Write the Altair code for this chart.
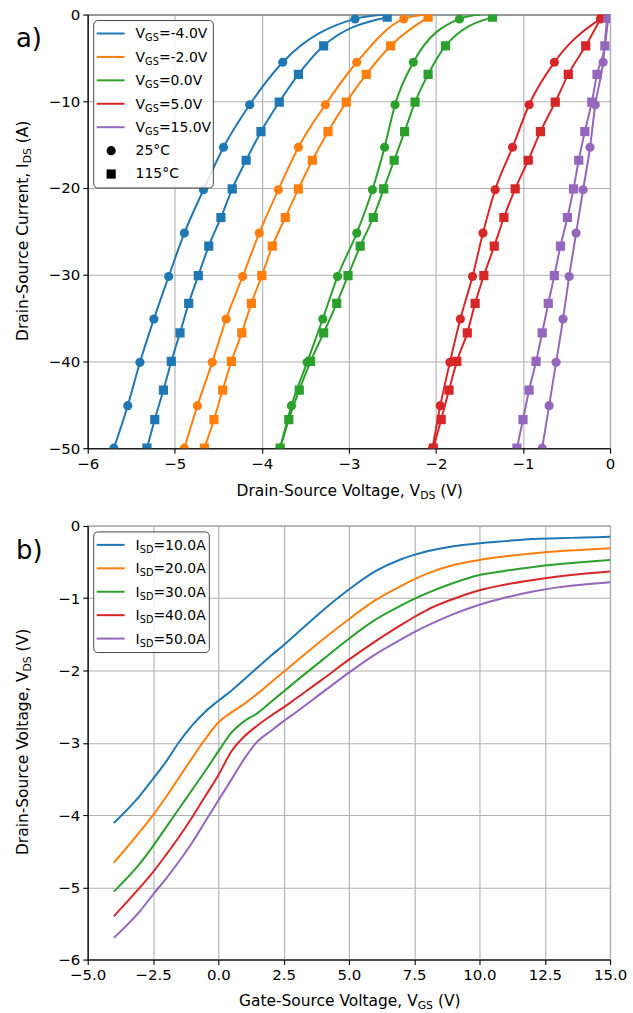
import altair as alt
import pandas as pd

FONT = "DejaVu Sans"

# ---------------- data: panel a) ----------------
VGS_VALUES = [-4.0, -2.0, 0.0, 5.0, 15.0]
VGS_LABELS = ["-4.0", "-2.0", "0.0", "5.0", "15.0"]
TEMPS = ["25°C", "115°C"]
PALETTE = ["#1f77b4", "#ff7f0e", "#2ca02c", "#d62728", "#9467bd"]

I_25C = [-0.5, -5.5, -10.4, -15.3, -20.2, -25.2, -30.2, -35.1, -40.1, -45.1, -50.0]
I_115C = [-0.3, -3.6, -6.9, -10.1, -13.5, -16.8, -20.1, -23.4, -26.7, -30.1,
          -33.3, -36.7, -40.0, -43.3, -46.7, -50.0]

VDS_25C_M4 = [-2.93, -3.76, -4.14, -4.44, -4.67, -4.89, -5.07, -5.24, -5.40, -5.54, -5.70]
VDS_25C_M2 = [-2.37, -2.91, -3.27, -3.58, -3.81, -4.03, -4.22, -4.41, -4.57, -4.74, -4.89]
VDS_25C_0 = [-1.73, -2.26, -2.47, -2.59, -2.73, -2.91, -3.13, -3.30, -3.48, -3.66, -3.79]
VDS_25C_5 = [-0.11, -0.64, -0.93, -1.12, -1.32, -1.46, -1.58, -1.72, -1.84, -1.95, -2.04]
VDS_25C_15 = [-0.03, -0.08, -0.17, -0.23, -0.31, -0.39, -0.47, -0.54, -0.62, -0.70, -0.78]
# where each 25°C curve meets I = 0 (line only, no marker)
VDS_25C_AT_ZERO = [-2.60, -2.10, -1.49, -0.03, 0.0]

VDS_115C_M4 = [-2.56, -3.29, -3.58, -3.80, -4.01, -4.18, -4.34, -4.47, -4.61, -4.73,
               -4.84, -4.94, -5.04, -5.13, -5.23, -5.32]
VDS_115C_M2 = [-2.09, -2.52, -2.80, -3.03, -3.24, -3.42, -3.58, -3.73, -3.88, -4.00,
               -4.12, -4.23, -4.35, -4.45, -4.55, -4.66]
VDS_115C_0 = [-1.35, -1.89, -2.09, -2.24, -2.36, -2.48, -2.60, -2.72, -2.87, -3.01,
              -3.14, -3.29, -3.44, -3.57, -3.69, -3.79]
VDS_115C_5 = [-0.10, -0.28, -0.48, -0.63, -0.80, -0.94, -1.09, -1.22, -1.33, -1.45,
              -1.55, -1.64, -1.76, -1.85, -1.94, -2.03]
VDS_115C_15 = [-0.02, -0.06, -0.15, -0.21, -0.29, -0.36, -0.42, -0.49, -0.57, -0.64,
               -0.71, -0.78, -0.85, -0.93, -1.00, -1.07]

# ---------------- data: panel b) ----------------
ISD_LABELS = ["10.0", "20.0", "30.0", "40.0", "50.0"]
VGS_GRID = [-4, -3, -2.5, -2, -1.5, -1, -0.5, 0, 0.5, 1, 1.5, 2, 2.5, 3, 4, 5, 6, 7,
            7.5, 8, 9, 10, 11, 12, 13, 14, 15]
VDS_10A = [-4.11, -3.73, -3.50, -3.26, -2.99, -2.76, -2.57, -2.42, -2.28, -2.12, -1.96,
           -1.80, -1.65, -1.49, -1.17, -0.88, -0.63, -0.46, -0.40, -0.35, -0.28, -0.24,
           -0.21, -0.18, -0.17, -0.16, -0.15]
VDS_20A = [-4.66, -4.23, -4.00, -3.75, -3.48, -3.21, -2.95, -2.72, -2.58, -2.46, -2.32,
           -2.17, -2.02, -1.87, -1.57, -1.29, -1.03, -0.83, -0.74, -0.66, -0.54, -0.47,
           -0.42, -0.38, -0.35, -0.33, -0.31]
VDS_30A = [-5.06, -4.67, -4.43, -4.17, -3.91, -3.65, -3.39, -3.12, -2.86, -2.70, -2.59,
           -2.44, -2.29, -2.14, -1.85, -1.56, -1.30, -1.10, -1.01, -0.93, -0.79, -0.68,
           -0.62, -0.57, -0.53, -0.50, -0.47]
VDS_40A = [-5.40, -5.00, -4.79, -4.55, -4.30, -4.03, -3.74, -3.45, -3.12, -2.91, -2.76,
           -2.63, -2.51, -2.38, -2.12, -1.85, -1.60, -1.37, -1.26, -1.16, -1.01, -0.89,
           -0.81, -0.75, -0.70, -0.66, -0.63]
VDS_50A = [-5.70, -5.33, -5.10, -4.88, -4.64, -4.38, -4.09, -3.80, -3.51, -3.22, -2.98,
           -2.84, -2.70, -2.57, -2.30, -2.03, -1.78, -1.57, -1.47, -1.38, -1.22, -1.09,
           -0.99, -0.91, -0.85, -0.81, -0.78]

# ---------------- build tables ----------------
v25 = [VDS_25C_M4, VDS_25C_M2, VDS_25C_0, VDS_25C_5, VDS_25C_15]
v115 = [VDS_115C_M4, VDS_115C_M2, VDS_115C_0, VDS_115C_5, VDS_115C_15]
pts_rows, line_rows = [], []
for lab, a25, a115, z in zip(VGS_LABELS, v25, v115, VDS_25C_AT_ZERO):
    for v, i in zip(a25, I_25C):
        pts_rows.append({"vds": v, "ids": i, "vgs": lab, "temp": TEMPS[0]})
    for v, i in zip(a115, I_115C):
        pts_rows.append({"vds": v, "ids": i, "vgs": lab, "temp": TEMPS[1]})
    line_rows.append({"vds": z, "ids": 0.0, "vgs": lab, "temp": TEMPS[0]})
pts_df = pd.DataFrame(pts_rows)
pts_df["series"] = pts_df["vgs"] + "_" + pts_df["temp"]
line_df = pd.concat([pts_df, pd.DataFrame(line_rows).assign(
    series=lambda d: d["vgs"] + "_" + d["temp"])], ignore_index=True)

b_rows = []
for lab, arr in zip(ISD_LABELS, [VDS_10A, VDS_20A, VDS_30A, VDS_40A, VDS_50A]):
    for g, v in zip(VGS_GRID, arr):
        b_rows.append({"vgs": g, "vds": v, "isd": lab})
b_df = pd.DataFrame(b_rows)

# ---------------- layout constants ----------------
W, H = 524, 435
FS_TICK = 15
FS_TITLE = 15.5
FS_LEG = 14
SUB = 0.7
ROW0, STEP = 19, 23.5

EM = {"D": .770, "r": .411, "a": .613, "i": .278, "n": .634, "-": .361, "S": .635,
      "o": .612, "u": .634, "c": .550, "e": .615, " ": .318, "V": .684, "l": .278,
      "t": .392, "g": .635, ",": .318, "(": .390, ")": .390, "C": .698, "I": .295,
      "A": .684, "G": .775}


def tw(s, size):
    return sum(EM.get(ch, 0.62) for ch in s) * size


def text1(text, x, y, size, align="left", baseline="alphabetic", angle=0, dy=0):
    return alt.Chart(alt.Data(values=[{"t": text}])).mark_text(
        align=align, baseline=baseline, fontSize=size, font=FONT, angle=angle,
        dy=dy, color="black").encode(x=alt.value(x), y=alt.value(y), text="t:N")


def x_title(p1, p2, p3, cx, y):
    w1, w2 = tw(p1, FS_TITLE), tw(p2, FS_TITLE * SUB)
    gap = tw(" ", FS_TITLE)
    w3 = tw(p3, FS_TITLE)
    a = cx - (w1 + w2 + gap + w3) / 2 + w1
    return [text1(p1, a, y, FS_TITLE, align="right"),
            text1(p2, a, y, FS_TITLE * SUB, dy=3),
            text1(p3, a + w2 + gap, y, FS_TITLE)]


def y_title(p1, p2, p3, x, cy):
    w1, w2 = tw(p1, FS_TITLE), tw(p2, FS_TITLE * SUB)
    gap = tw(" ", FS_TITLE)
    w3 = tw(p3, FS_TITLE)
    a = cy + (w1 + w2 + gap + w3) / 2 - w1
    return [text1(p1, x, a, FS_TITLE, align="right", angle=270),
            text1(p2, x, a, FS_TITLE * SUB, angle=270, dy=3),
            text1(p3, x, a - w2 - gap, FS_TITLE, angle=270)]


def legend_block(prefix, subs, labels, units, n_extra, box_w):
    n = len(labels) + n_extra
    box = alt.Chart(alt.Data(values=[{}])).mark_rect(
        fill="white", fillOpacity=0.85, stroke="#444444", strokeWidth=1,
        cornerRadius=4).encode(
        x=alt.value(6), x2=alt.value(6 + box_w),
        y=alt.value(6), y2=alt.value(ROW0 + (n - 1) * STEP + 14))
    df = pd.DataFrame({"k": list(range(len(labels))), "key": labels,
                       "rest": ["=" + l + units for l in labels]})
    base = alt.Chart(df).transform_calculate(
        ly=f"datum.k * {STEP} + {ROW0}", lb=f"datum.k * {STEP} + {ROW0} + 5")
    handles = base.mark_rule(strokeWidth=2).encode(
        x=alt.value(9), x2=alt.value(37),
        y=alt.Y("ly:Q", scale=None, axis=None),
        color=alt.Color("key:N", scale=alt.Scale(domain=labels, range=PALETTE),
                        legend=None))
    x0 = 48
    w_main = tw(prefix, FS_LEG)
    w_sub = tw(subs, FS_LEG * SUB)
    t1 = base.mark_text(align="left", baseline="alphabetic", fontSize=FS_LEG,
                        font=FONT, color="black", text=prefix).encode(
        x=alt.value(x0), y=alt.Y("lb:Q", scale=None, axis=None))
    t2 = base.mark_text(align="left", baseline="alphabetic", fontSize=FS_LEG * SUB,
                        font=FONT, color="black", text=subs, dy=3).encode(
        x=alt.value(x0 + w_main), y=alt.Y("lb:Q", scale=None, axis=None))
    t3 = base.mark_text(align="left", baseline="alphabetic", fontSize=FS_LEG,
                        font=FONT, color="black").encode(
        x=alt.value(x0 + w_main + w_sub), y=alt.Y("lb:Q", scale=None, axis=None),
        text="rest:N")
    return [box, handles, t1, t2, t3]


# ---------------- panel a ----------------
xa = alt.X("vds:Q", scale=alt.Scale(domain=[-6, 0], nice=False, zero=False),
           axis=alt.Axis(values=[-6, -5, -4, -3, -2, -1, 0], format="d", title=None))
ya = alt.Y("ids:Q", scale=alt.Scale(domain=[-50, 0], nice=False, zero=False),
           axis=alt.Axis(values=[-50, -40, -30, -20, -10, 0], format="d", title=None))
col_a = alt.Color("vgs:N", scale=alt.Scale(domain=VGS_LABELS, range=PALETTE), legend=None)
shape_a = alt.Shape("temp:N", scale=alt.Scale(domain=TEMPS, range=["circle", "square"]),
                    legend=None)

lines_a = alt.Chart(line_df).mark_line(strokeWidth=2, clip=True, interpolate="monotone").encode(
    x=xa, y=ya, color=col_a, detail="series:N", order="ids:Q")
points_a = alt.Chart(pts_df).mark_point(filled=True, opacity=1, size=85, clip=True).encode(
    x=xa, y=ya, color=col_a, shape=shape_a)

leg_a = legend_block("V", "GS", VGS_LABELS, "V", 2, 120)
temp_df = pd.DataFrame({"k": [5, 6], "temp": TEMPS})
tbase = alt.Chart(temp_df).transform_calculate(ly=f"datum.k * {STEP} + {ROW0}")
temp_sym = tbase.mark_point(filled=True, opacity=1, size=85, color="black").encode(
    x=alt.value(23.5), y=alt.Y("ly:Q", scale=None, axis=None), shape=shape_a)
temp_txt = tbase.mark_text(align="left", baseline="middle", fontSize=FS_LEG, font=FONT,
                           color="black").encode(
    x=alt.value(48), y=alt.Y("ly:Q", scale=None, axis=None), text="temp:N")

panel_a = alt.layer(
    lines_a, points_a, *leg_a, temp_sym, temp_txt,
    *x_title("Drain-Source Voltage, V", "DS", "(V)", W / 2, H + 48),
    *y_title("Drain-Source Current, I", "DS", "(A)", -60, H / 2),
    text1("a)", -72, 33, 26),
).properties(width=W, height=H)

# ---------------- panel b ----------------
xb = alt.X("vgs:Q", scale=alt.Scale(domain=[-5, 15], nice=False, zero=False),
           axis=alt.Axis(values=[-5, -2.5, 0, 2.5, 5, 7.5, 10, 12.5, 15], format=".1f",
                         title=None))
yb = alt.Y("vds:Q", scale=alt.Scale(domain=[-6, 0], nice=False, zero=False),
           axis=alt.Axis(values=[-6, -5, -4, -3, -2, -1, 0], format="d", title=None))
col_b = alt.Color("isd:N", scale=alt.Scale(domain=ISD_LABELS, range=PALETTE), legend=None)
lines_b = alt.Chart(b_df).mark_line(strokeWidth=2, clip=True, interpolate="monotone").encode(
    x=xb, y=yb, color=col_b, detail="isd:N", order="vgs:Q")
leg_b = legend_block("I", "SD", ISD_LABELS, "A", 0, 116)

panel_b = alt.layer(
    lines_b, *leg_b,
    *x_title("Gate-Source Voltage, V", "GS", "(V)", W / 2, H + 47),
    *y_title("Drain-Source Voltage, V", "DS", "(V)", -60, H / 2),
    text1("b)", -72, 33, 26),
).properties(width=W, height=H)

chart = alt.vconcat(panel_a, panel_b, spacing=78, bounds="flush").properties(
    padding={"left": 15, "top": 5, "right": 5, "bottom": 5}
).configure(font=FONT).configure_view(
    stroke="black", strokeWidth=1.1
).configure_axis(
    labelFont=FONT, labelFontSize=FS_TICK, labelColor="black", labelPadding=3,
    labelOverlap=False, labelFlush=False,
    tickColor="black", tickSize=5, tickWidth=1.1,
    domainColor="black", domainWidth=1.1,
    gridColor="#b0b0b0", gridWidth=1.1, gridOpacity=1,
)

chart.save("out.html", embed_options={"renderer": "svg", "actions": False})
